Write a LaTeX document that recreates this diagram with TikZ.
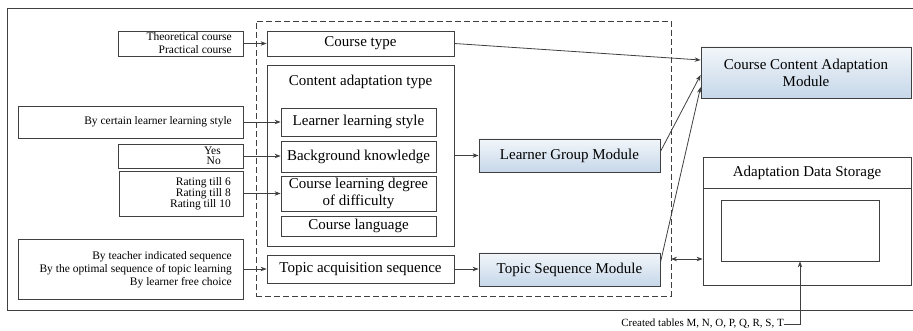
\documentclass[tikz,border=0pt]{standalone}
\usepackage{fontspec}
\setmainfont{Liberation Serif}
\usetikzlibrary{arrows.meta}

\definecolor{linegray}{RGB}{64,64,64}
\definecolor{modtop}{RGB}{242,246,250}
\definecolor{modbot}{RGB}{198,215,233}

\tikzset{
  block/.style={draw=linegray, line width=0.8pt, inner sep=0pt, align=center,
                font=\fontsize{15}{17}\selectfont},
  module/.style={block, top color=modtop, bottom color=modbot},
  source/.style={draw=linegray, line width=0.8pt, inner sep=0pt},
  choice/.style={inner sep=0pt, anchor=east, align=right},
  link/.style={->, draw=linegray, line width=0.8pt},
}

\begin{document}
\begin{tikzpicture}[x=1pt,y=-1pt,>={Stealth[length=6pt,width=4.5pt]}]

  \useasboundingbox (0,0) rectangle (913,331);

  % frames
  \draw[linegray, line width=0.8pt] (7,8) rectangle (920,310);
  \node[draw=linegray, dash pattern=on 6pt off 3pt, line width=0.8pt, minimum width=415,
        minimum height=275, inner sep=0pt] (core) at (463.5,158.5) {};

  % choices on the left
  \node[source, minimum width=125, minimum height=25] (th) at (180.5,43.5) {};
  \node[choice, font=\fontsize{11.5}{13}\selectfont] (thtxt) at (232,43) {Theoretical course\\Practical course};
  \node[source, minimum width=225, minimum height=32] (bc) at (130.5,122) {};
  \node[choice, font=\fontsize{11.5}{13}\selectfont] (bctxt) at (232,122) {By certain learner learning style};
  \node[source, minimum width=125, minimum height=24] (yn) at (180.5,156) {};
  \node[choice, font=\fontsize{11.5}{10.5}\selectfont] (yntxt) at (221,156) {Yes\\No};
  \node[source, minimum width=124, minimum height=45] (rt) at (181,193.5) {};
  \node[choice, font=\fontsize{11.5}{11}\selectfont] (rttxt) at (231,193.5) {Rating till 6\\Rating till 8\\Rating till 10};
  \node[source, minimum width=225, minimum height=60] (bt) at (130.5,269) {};
  \node[choice, font=\fontsize{11.5}{12.8}\selectfont] (bttxt) at (232,269.5) {By teacher indicated sequence\\By the optimal sequence of topic learning\\By learner free choice};

  % adaptation parameters
  \node[block, minimum width=187, minimum height=25] (ct) at (360.5,43.5) {Course type};
  \node[block, minimum width=187, minimum height=181] (cat) at (360.5,155.5) {};
  \node[font=\fontsize{15}{17}\selectfont] (cattitle) at (360.5,82) {Content adaptation type};
  \node[block, minimum width=155, minimum height=28] (lls) at (358.5,122) {Learner learning style};
  \node[block, minimum width=155, minimum height=31] (bk) at (358.5,156.5) {Background knowledge};
  \node[block, minimum width=155, minimum height=35] (cld) at (358.5,193.5) {Course learning degree\\of difficulty};
  \node[block, minimum width=155, minimum height=20] (cl) at (358.5,226) {Course language};
  \node[block, minimum width=187, minimum height=28] (tas) at (360.5,269) {Topic acquisition sequence};

  % modules
  \node[module, minimum width=181, minimum height=33] (lgm) at (569.5,155.5) {Learner Group Module};
  \node[module, minimum width=181, minimum height=33] (tsm) at (569.5,269.5) {Topic Sequence Module};
  \node[module, minimum width=210, minimum height=51] (ccam) at (806,72.5) {Course Content Adaptation\\Module};

  % storage
  \node[block, minimum width=208, minimum height=128] (ads) at (807,221) {};
  \node[font=\fontsize{15}{17}\selectfont] (adstitle) at (807,173) {Adaptation Data Storage};
  \draw[linegray, line width=0.8pt] (ads.north west) ++(0,32) -- ++(208,0);
  \node[block, minimum width=158, minimum height=61] (store) at (800,230.5) {};
  \node[choice, font=\fontsize{11}{12}\selectfont] (tables) at (784,324) {Created tables M, N, O, P, Q, R, S, T};
  \coordinate (dl) at (671,259);

  % connectors
  \draw[link] (th.east) -- (th.east -| ct.west);
  \draw[link] (bc.east) -- (bc.east -| lls.west);
  \draw[link] (yn.east) -- (yn.east -| bk.west);
  \draw[link] (rt.east) -- (rt.east -| cld.west);
  \draw[link] (bt.east) -- (bt.east -| tas.west);
  \draw[link] (cat.east) -- (cat.east -| lgm.west);
  \draw[link] (tas.east) -- (tas.east -| tsm.west);
  \draw[link] (ct.east) -- ([yshift=12.5]ccam.west);
  \draw[link] ([yshift=-13]lgm.north east) -- ([yshift=-2.5]ccam.west);
  \draw[link] ([yshift=-10]tsm.north east) -- ([yshift=-14.5]ccam.west);
  \draw[link, <->] (dl) -- (dl -| ads.west);
  \draw[link] (tables.east) -| (store.south);

\end{tikzpicture}
\end{document}
